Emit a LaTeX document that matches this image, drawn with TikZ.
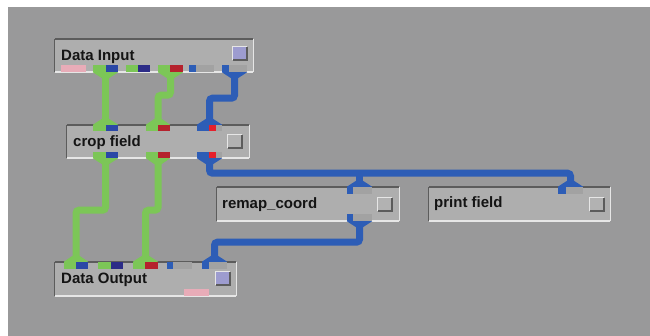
\documentclass[tikz,border=0pt]{standalone}
\usepackage{fontspec}
\setmainfont{Liberation Sans}
\usetikzlibrary{fit,calc}
\definecolor{bgc}{HTML}{99999A}
\definecolor{boxfill}{HTML}{AEAEAE}
\definecolor{dk}{HTML}{5C5C5C}
\definecolor{lt}{HTML}{E6E6E6}
\definecolor{grn}{HTML}{7CC657}
\definecolor{blu}{HTML}{2D5DB6}
\definecolor{pblu}{HTML}{2B48A6}
\definecolor{navy}{HTML}{2C2C87}
\definecolor{rd}{HTML}{B5222D}
\definecolor{brd}{HTML}{E5202C}
\definecolor{pgray}{HTML}{A2A2A2}
\definecolor{pnk}{HTML}{E8ACB8}
\definecolor{lav}{HTML}{9D9CCF}
\definecolor{btngray}{HTML}{B2B2B2}
\definecolor{txt}{HTML}{141414}
% module box: name, x1, y1, x2, y2
\newcommand\mybox[5]{%
  \node[fit={(#2,#3) (#4,#5)}, modbox] (#1) {};
  \draw[lt, line width=2pt] (#1.south west) -- (#1.south east);
  \draw[lt, line width=1.2pt] (#1.south east) -- (#1.north east);
  \draw[dk, line width=1pt] (#1.south west) -- (#1.north west);
  \draw[dk, line width=2pt] (#1.north west) -- (#1.north east);
}
% button: name, x, y, colour
\newcommand\mybtn[4]{%
  \node[fit={(#2,#3) (#2+14,#3+13)}, inner sep=0, fill=#4] (#1) {};
  \draw[lt, line width=1.2pt] (#1.south west) -- (#1.north west) -- (#1.north east);
  \draw[dk, line width=1.6pt] (#1.north east) -- (#1.south east) -- (#1.south west);
}
% port: name, xl, xm, xr, yt, yb, left colour, right colour
\newcommand\prt[8]{%
  \fill[#7] (#2,#5) rectangle (#3,#6);
  \fill[#8] (#3,#5) rectangle (#4,#6);
  \node[fit={(#2,#5) (#4,#6)}, inner sep=0] (#1) {};
}
\newcommand\fdown[2]{\fill[#2] (#1.south west) -- (#1.south east) -- ($(#1.south)+(3.5,6)$) -- ($(#1.south)+(-3.5,6)$) -- cycle;}
\newcommand\fup[2]{\fill[#2] (#1.north west) -- (#1.north east) -- ($(#1.north)+(3.5,-6)$) -- ($(#1.north)+(-3.5,-6)$) -- cycle;}
\begin{document}
\begin{tikzpicture}[x=1pt,y=-1pt,
  modbox/.style={fill=boxfill, draw=none, inner sep=0, rectangle},
  lbl/.style={anchor=base west, inner sep=0, font=\bfseries\fontsize{15}{18}\selectfont, text=txt},
  pipe/.style={line width=7pt, draw=#1, rounded corners=3pt}]
\useasboundingbox (0,0) rectangle (650,336);
\fill[white] (0,0) rectangle (650,336);
\fill[bgc] (8,7) rectangle (650,336);

% modules
\mybox{din}{55}{39}{253}{72}
\mybox{crop}{67}{125}{249}{158}
\mybox{remap}{217}{187}{399}{221}
\mybox{print}{429}{187}{610}{221}
\mybox{dout}{55}{262}{236}{296}

\node[lbl] (tdin) at (61,61) {Data Input};
\node[lbl] (tcrop) at (73,147) {crop field};
\node[lbl] (tremap) at (222,209) {remap\_coord};
\node[lbl] (tprint) at (434,208) {print field};
\node[lbl] (tdout) at (61,284) {Data Output};

\mybtn{bdin}{233}{47}{lav}
\mybtn{bcrop}{228}{135}{btngray}
\mybtn{bremap}{378}{198}{btngray}
\mybtn{bprint}{590}{198}{btngray}
\mybtn{bdout}{216}{272}{lav}

% ports: Data Input
\prt{dipk}{61}{73}{86}{65}{72}{pnk}{pnk}
\prt{dip1}{93}{106}{118}{65}{72}{grn}{pblu}
\prt{dip2}{126}{138}{150}{65}{72}{grn}{navy}
\prt{dip3}{158}{170}{183}{65}{72}{grn}{rd}
\prt{dip4}{189}{196}{214}{65}{72}{blu}{pgray}
\prt{dip5}{222}{229}{247}{65}{72}{blu}{pgray}
% crop field
\prt{cfi1}{93}{106}{118}{125}{131}{grn}{pblu}
\prt{cfi2}{146}{158}{170}{125}{131}{grn}{rd}
\prt{cfi3}{197}{209}{222}{125}{131}{blu}{pgray}
\fill[brd] (209,125) rectangle (216,131);
\prt{cfo1}{93}{106}{118}{152}{158}{grn}{pblu}
\prt{cfo2}{146}{158}{170}{152}{158}{grn}{rd}
\prt{cfo3}{197}{209}{222}{152}{158}{blu}{pgray}
\fill[brd] (209,152) rectangle (216,158);
% remap_coord and print field
\prt{rmi}{347}{353}{372}{187}{194}{blu}{pgray}
\prt{rmo}{347}{353}{372}{214}{221}{blu}{pgray}
\prt{pfi}{558}{566}{583}{187}{194}{blu}{pgray}
% Data Output
\prt{do1}{64}{76}{88}{262}{269}{grn}{pblu}
\prt{do2}{98}{111}{123}{262}{269}{grn}{navy}
\prt{do3}{133}{145}{158}{262}{269}{grn}{rd}
\prt{do4}{167}{173}{192}{262}{269}{blu}{pgray}
\prt{do5}{202}{209}{227}{262}{269}{blu}{pgray}
\prt{dopk}{184}{196}{209}{289}{296}{pnk}{pnk}

% funnels
\fdown{dip1}{grn} \fdown{dip3}{grn} \fdown{dip5}{blu}
\fup{cfi1}{grn} \fup{cfi2}{grn} \fup{cfi3}{blu}
\fdown{cfo1}{grn} \fdown{cfo2}{grn} \fdown{cfo3}{blu}
\fup{rmi}{blu} \fdown{rmo}{blu} \fup{pfi}{blu}
\fup{do1}{grn} \fup{do3}{grn} \fup{do5}{blu}

% pipes
\draw[pipe=grn] (dip1.south) -- (cfi1.north);
\draw[pipe=grn] (dip3.south) -- ++(0,23) -| (cfi2.north);
\draw[pipe=blu] (dip5.south) -- ++(0,26) -| (cfi3.north);
\draw[pipe=grn] (cfo1.south) -- ++(0,52) -| (do1.north);
\draw[pipe=grn] (cfo2.south) -- ++(0,52) -| (do3.north);
\draw[pipe=blu] (cfo3.south) -- ++(0,15) -| (pfi.north);
\draw[pipe=blu] (rmi.north) -- ++(0,-14);
\draw[pipe=blu] (rmo.south) -- ++(0,21) -| (do5.north);
\end{tikzpicture}
\end{document}
